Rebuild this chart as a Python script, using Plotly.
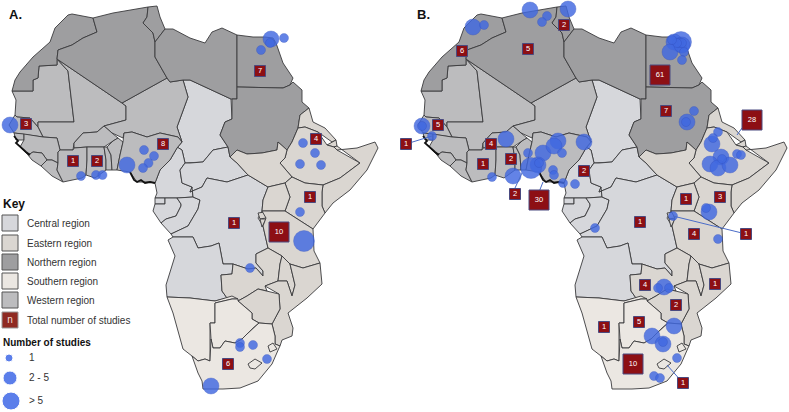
import plotly.graph_objects as go

PANEL_B_SHIFT = 409
REGION_COLORS = {"Central": "#d6d7db", "Eastern": "#dad6d1", "Northern": "#9e9ea0", "Southern": "#ebe7e2", "Western": "#bcbcbe"}

# country outlines, map units
NORTHERN = {
 "Morocco": [(72,14),(93,18),(97,32),(83,38),(72,45),(58,50),(57,59),(57,65),(39,66),(38,78),(33,80),(33,91),(12,91),(15,80),(20,72),(28,63),(33,57),(50,42),(55,28),(68,15)],
 "Algeria": [(93,18),(113,13),(148,7),(147,17),(143,23),(153,33),(155,42),(155,57),(167,78),(122,103),(57,59),(58,50),(72,45),(83,38),(97,32)],
 "Tunisia": [(148,7),(157,6),(160,17),(165,29),(155,42),(153,33),(143,23),(147,17)],
 "Libya": [(165,29),(173,29),(190,38),(205,43),(212,32),(222,28),(237,35),(237,87),(237,99),(231,99),(190,80),(183,80),(170,82),(167,78),(155,57),(155,42)],
 "Egypt": [(237,35),(253,37),(265,37),(273,38),(276,43),(283,63),(293,78),(290,85),(283,88),(237,87)],
 "Sudan": [(237,87),(283,88),(290,85),(293,82),(302,90),(302,102),(309,108),(300,115),(298,128),(292,142),(287,150),(278,142),(277,150),(262,153),(247,154),(237,150),(230,157),(228,147),(220,135),(225,122),(232,119),(232,99),(237,99)],
}
WESTERN = {
 "Mauritania": [(57,59),(68,71),(74,122),(38,122),(38,127),(30,118),(17,117),(15,115),(16,100),(12,91),(33,91),(33,80),(38,78),(39,66),(57,65)],
 "Mali": [(68,71),(74,122),(38,122),(38,127),(43,137),(57,138),(60,150),(73,150),(74,143),(83,133),(97,132),(104,126),(126,120),(126,106),(122,103),(57,59)],
 "Niger": [(122,103),(167,78),(170,82),(183,80),(188,97),(177,127),(182,142),(178,137),(160,133),(147,137),(132,132),(124,133),(123,138),(112,133),(104,126),(126,120),(126,106)],
 "Burkina": [(74,143),(83,133),(97,132),(104,126),(112,133),(118,138),(113,141),(104,147),(87,147),(74,148)],
 "Senegal": [(15,115),(17,117),(30,118),(38,127),(43,137),(24,134),(14,133),(9,125)],
 "Bissau": [(14,133),(24,134),(24,140),(16,140)],
 "Guinea": [(24,134),(43,137),(57,138),(60,150),(58,152),(58,163),(52,160),(47,160),(42,153),(33,152),(28,155),(20,147),(24,140)],
 "SierraLeone": [(28,155),(33,152),(42,153),(47,160),(41,166),(32,160)],
 "Liberia": [(41,166),(47,160),(52,160),(58,163),(57,170),(63,182),(52,176)],
 "IvoryCoast": [(58,152),(60,150),(73,150),(74,148),(87,147),(87,160),(86,175),(82,178),(63,182),(57,170),(58,163)],
 "Ghana": [(87,147),(104,147),(106,160),(106,170),(95,178),(86,175),(87,160)],
 "Togo": [(104,147),(107,147),(111,155),(112,170),(106,170),(106,160)],
 "Benin": [(107,147),(113,141),(118,138),(123,142),(120,155),(117,170),(112,170),(111,155)],
 "Nigeria": [(124,133),(132,132),(147,137),(160,133),(178,137),(182,142),(177,148),(170,160),(160,170),(155,183),(150,182),(137,182),(130,172),(117,170),(120,155),(123,142)],
}
CENTRAL = {
 "Chad": [(183,80),(190,80),(231,99),(232,119),(225,122),(220,135),(228,147),(213,150),(203,162),(190,163),(185,163),(182,150),(177,147),(182,142),(177,127),(188,97)],
 "Cameroon": [(155,183),(160,170),(170,160),(177,148),(182,142),(177,147),(182,150),(185,163),(180,170),(182,183),(192,187),(193,197),(177,198),(155,198),(157,193)],
 "CAR": [(185,163),(190,163),(203,162),(213,150),(228,147),(230,157),(237,163),(248,175),(227,182),(207,178),(202,187),(190,192),(192,187),(182,183),(180,170)],
 "EqGuinea": [(155,198),(165,198),(165,204),(155,204)],
 "Gabon": [(155,204),(165,204),(165,198),(177,198),(181,204),(181,206),(176,216),(166,219),(161,223),(153,211)],
 "Congo": [(177,198),(193,197),(200,200),(198,209),(188,226),(171,234),(161,223),(166,219),(176,216),(181,206),(181,204)],
 "DRC": [(190,192),(202,187),(207,178),(227,182),(248,175),(268,187),(263,200),(262,211),(258,218),(263,226),(268,248),(256,254),(256,263),(263,271),(263,276),(256,268),(248,269),(233,264),(223,264),(219,243),(211,246),(198,248),(193,237),(173,237),(171,234),(188,226),(198,209),(200,200),(193,197),(192,187)],
 "Angola": [(173,237),(193,237),(198,248),(211,246),(219,243),(223,264),(233,264),(232,274),(221,275),(222,291),(227,298),(215,301),(190,298),(167,297),(166,285),(175,256),(168,240)],
}
EASTERN = {
 "Eritrea": [(309,108),(313,122),(325,128),(336,140),(332,142),(318,132),(305,127),(298,128),(300,115)],
 "Djibouti": [(336,140),(332,142),(327,145),(334,147),(337,146)],
 "Ethiopia": [(298,128),(305,127),(318,132),(327,145),(334,147),(337,150),(360,163),(340,178),(323,185),(305,183),(292,177),(280,163),(285,158),(287,150),(292,142)],
 "Somalia": [(337,146),(334,147),(337,150),(357,148),(375,142),(378,148),(367,170),(350,190),(333,203),(325,213),(322,206),(322,192),(323,185),(340,178),(360,163)],
 "SouthSudan": [(237,150),(247,154),(262,153),(277,150),(278,142),(287,150),(285,158),(280,163),(292,177),(285,183),(268,187),(248,175),(237,163),(230,157)],
 "Kenya": [(292,177),(305,183),(323,185),(322,192),(322,206),(325,213),(313,229),(285,211),(290,197),(285,183)],
 "Uganda": [(268,187),(285,183),(290,197),(285,211),(262,211),(263,200)],
 "Rwanda": [(258,213),(265,212),(266,218),(260,219)],
 "Burundi": [(260,219),(266,219),(262,227)],
 "Tanzania": [(262,211),(285,211),(313,229),(314,251),(320,263),(303,268),(290,264),(282,256),(268,248),(263,226),(266,218)],
 "Zambia": [(221,275),(232,274),(233,264),(248,269),(256,268),(263,276),(263,271),(256,263),(256,254),(268,248),(282,256),(280,264),(278,281),(265,286),(267,291),(258,289),(247,296),(238,301),(227,298),(222,291)],
 "Malawi": [(282,256),(290,264),(295,285),(292,296),(287,281),(278,281),(280,264)],
 "Mozambique": [(290,264),(303,268),(320,263),(322,284),(307,298),(288,313),(293,328),(292,336),(282,340),(280,346),(275,344),(275,336),(272,324),(280,309),(279,294),(265,286),(278,281),(287,281),(292,296),(295,285)],
 "Zimbabwe": [(238,301),(247,296),(258,289),(267,291),(279,294),(280,309),(272,324),(259,323),(252,319),(252,313)],
}
SOUTHERN = {
 "Namibia": [(167,297),(190,298),(215,301),(232,296),(238,299),(232,299),(215,303),(215,323),(210,323),(210,361),(205,359),(198,361),(192,356),(183,349),(173,313)],
 "Botswana": [(215,303),(232,299),(238,299),(238,301),(252,313),(252,319),(259,323),(253,328),(247,334),(242,339),(235,343),(225,341),(220,348),(213,348),(211,339),(210,323),(215,323)],
 "SouthAfrica": [(192,356),(198,361),(205,359),(210,361),(211,339),(213,348),(220,348),(225,341),(235,343),(242,339),(247,334),(253,328),(259,323),(272,324),(275,336),(275,344),(280,346),(279,348),(272,364),(258,381),(240,388),(223,389),(203,389),(202,381),(198,373)],
 "Lesotho": [(248,364),(255,359),(262,363),(255,369),(250,368)],
 "Swaziland": [(268,346),(273,343),(277,349),(270,352)],
}
ROUGH_COAST = [(14,136),(18,141),(16,143),(20,147),(24,150),(26,152),(30,155)]
DELTA_COAST = [(130,172),(134,180),(137,182),(141,180),(145,183),(150,182),(155,183)]

# studies per location
A_X = [10,81,96,102.5,127,144,154,148.5,143,271,270,284,261,303,315,300,321,300,304,250,240,240,253,267,211]
A_Y = [125,176,175,175,165,150,156,163,168,39,43,38,50,143,153,164,165,212,241,268,343,347,345,359,386]
A_N = [3,1,1,1,3,1,1,1,1,2,1,1,1,1,1,1,1,1,6,1,1,1,1,1,3]

B_X = [473,484,530,547,542,568,422,422,432,492,506,513,528,543,558,554,562,538,531,539,553,554,563,575,584,595,673,709,706,718,664,658,669,674,652,663,663,677,654,660,
       681,674,670,682,679,682,677,684,682,672,694,687,686,718,712,713,721,710,718,730,722,737,741]
B_Y = [27,25,10,16,22,9,126,126,136,177,139,176,153,153,141,146,153,165,168,163,170,175,183,184,142,228,216,212,208,239,287,288,288,326,336,344,342,358,376,378,
       42,42,52,45,43,43,43,52,60,40,111,122,122,132,144,138,157,164,168,165,159,154,155]
B_N = [3,1,3,1,1,3,3,1,1,1,3,3,1,3,3,3,1,3,6,1,1,1,1,1,3,1,1,3,1,1,3,1,1,3,3,3,1,1,1,1,
       6,3,3,2,1,1,1,1,1,1,1,4,1,1,3,1,3,3,3,3,1,1,1]

# region totals
A_TOTAL_X = [26,73,97,163,260,316,310,234,279,228]
A_TOTAL_Y = [124,161,161,144,71,139,197,223,232,364]
A_TOTAL = [3,1,2,8,7,4,1,1,10,6]
B_TOTAL_X = [438,462,528,564,406,491,511,483,515,539,584,660,666,752,686,720,640,694,746,715,645,676,639,604,633,683]
B_TOTAL_Y = [125,51,49,25,144,144,159,164,194,200,171,75,111,120,199,197,222,234,234,284,285,305,322,327,364,383]
B_TOTAL = [5,6,5,2,1,4,2,1,2,30,2,61,7,28,1,3,1,4,1,1,4,2,5,1,10,1]

LEADERS = [[(406,144),(432,136)],[(515,188),(522,173)],[(539,192),(543,182)],[(742,128),(737,135)],[(746,234),(673,216)],[(683,383),(667,365)]]

KEY_LABELS = ["Central region","Eastern region","Northern region","Southern region","Western region"]
KEY_REGIONS = ["Central","Eastern","Northern","Southern","Western"]
KEY_Y = [223,243,262,281,300]
SIZE_LABELS = ["1","2 - 5","> 5"]
SIZE_KEY_X = [9,10,11]
SIZE_KEY_Y = [358,378,401]

FONT = "Liberation Sans"
BLUE = "#4169e1"
RED = "#8d0f14"

def circle_size(n):
    return 9 if n == 1 else (16 if n <= 5 else 21)

def square_size(n):
    return 20 if n >= 10 else 11

fig = go.Figure()

def add_map(shift):
    for region, group in [("Central",CENTRAL),("Western",WESTERN),("Northern",NORTHERN),("Eastern",EASTERN),("Southern",SOUTHERN)]:
        for pts in group.values():
            closed = pts + [pts[0]]
            fig.add_trace(go.Scatter(x=[p[0]+shift for p in closed], y=[p[1] for p in closed], mode="lines", fill="toself",
                                     fillcolor=REGION_COLORS[region], line=dict(color="#3a3a3c", width=0.9), hoverinfo="skip"))
    for coast in (ROUGH_COAST, DELTA_COAST):
        fig.add_trace(go.Scatter(x=[p[0]+shift for p in coast], y=[p[1] for p in coast], mode="lines",
                                 line=dict(color="#111", width=1.8), hoverinfo="skip"))

add_map(0)
add_map(PANEL_B_SHIFT)

def add_points(xs, ys, ns):
    fig.add_trace(go.Scatter(x=xs, y=ys, mode="markers",
                             marker=dict(size=[circle_size(n) for n in ns], color=BLUE, opacity=0.82,
                                         line=dict(color="rgba(50,80,190,0.7)", width=0.6)), hoverinfo="skip"))

add_points(A_X, A_Y, A_N)
add_points(B_X, B_Y, B_N)

for seg in LEADERS:
    fig.add_trace(go.Scatter(x=[p[0] for p in seg], y=[p[1] for p in seg], mode="lines",
                             line=dict(color="#4a6cc8", width=1), hoverinfo="skip"))

def add_totals(xs, ys, ns):
    fig.add_trace(go.Scatter(x=xs, y=ys, mode="markers+text", text=[str(n) for n in ns], textposition="middle center",
                             textfont=dict(family=FONT, size=7.5, color="white"),
                             marker=dict(symbol="square", size=[square_size(n) for n in ns], color=RED, opacity=1, line=dict(color="#4a4a80", width=1)),
                             hoverinfo="skip"))

add_totals(A_TOTAL_X, A_TOTAL_Y, A_TOTAL)
add_totals(B_TOTAL_X, B_TOTAL_Y, B_TOTAL)

# key swatches
fig.add_trace(go.Scatter(x=[10]*5, y=KEY_Y, mode="markers",
                         marker=dict(symbol="square", size=16, opacity=1, color=[REGION_COLORS[r] for r in KEY_REGIONS], line=dict(color="#555", width=1)), hoverinfo="skip"))
fig.add_trace(go.Scatter(x=[10], y=[320], mode="markers+text", text=["n"], textposition="middle center",
                         textfont=dict(family=FONT, size=10, color="#f2dcd8"),
                         marker=dict(symbol="square", size=16, opacity=1, color="#8f2a22", line=dict(color="#999", width=1)), hoverinfo="skip"))
fig.add_trace(go.Scatter(x=SIZE_KEY_X, y=SIZE_KEY_Y, mode="markers",
                         marker=dict(size=[8,14,18], opacity=1, color="#5b7eea"), hoverinfo="skip"))

def label(x, y, text, size=10, bold=False, color="#333"):
    t = f"<b>{text}</b>" if bold else text
    fig.add_annotation(x=x, y=y, text=t, showarrow=False, xanchor="left", yanchor="middle",
                       font=dict(family=FONT, size=size, color=color))

for txt, y in zip(KEY_LABELS, KEY_Y):
    label(25, y, txt)
label(25, 320, "Total number of studies")
label(1, 204, "Key", 12, True, "#111")
label(1, 342, "Number of studies", 10, True, "#111")
for txt, y in zip(SIZE_LABELS, SIZE_KEY_Y):
    label(27, y-1, txt)
label(7, 14, "A.", 13, True, "#111")
label(415, 14, "B.", 13, True, "#111")

fig.update_layout(width=789, height=412, margin=dict(l=0, r=0, t=0, b=0), showlegend=False,
                  plot_bgcolor="white", paper_bgcolor="white",
                  xaxis=dict(range=[0,789], visible=False, fixedrange=True),
                  yaxis=dict(range=[412,0], visible=False, fixedrange=True))
fig.write_html("out.html", config={"displayModeBar": False},
               post_script="document.body.style.margin='0';document.documentElement.style.overflow='hidden';")
